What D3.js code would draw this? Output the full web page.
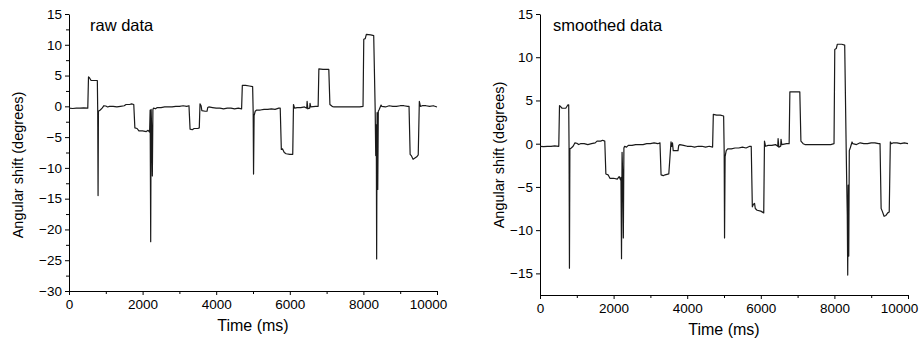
<!DOCTYPE html>
<html><head><meta charset="utf-8">
<script src="https://cdn.jsdelivr.net/npm/d3@7"></script>
<style>body{margin:0;background:#fff}svg{display:block}text{font-family:"Liberation Sans",Arial,sans-serif;fill:#000}</style>
</head><body><svg id="c" width="920" height="342"></svg>
<script>
const xTicks = [0, 2000, 4000, 6000, 8000, 10000];
const rawYTicks = [15, 10, 5, 0, -5, -10, -15, -20, -25, -30];
const smoothYTicks = [15, 10, 5, 0, -5, -10, -15];

const rawTime = [0,100,200,300,400,510,530,560,600,700,770,780,790,800,850,900,950,1000,1050,1100,1200,1300,1400,1500,1550,1650,1700,1760,1790,1850,1900,2000,2100,2150,2190,2205,2220,2232,2250,2265,2280,2300,2350,2400,2500,2600,2700,2800,2900,3000,3100,3200,3260,3290,3350,3400,3500,3540,3560,3590,3610,3700,3750,3770,3800,3900,4000,4100,4200,4300,4400,4500,4600,4690,4710,4800,4900,4990,5005,5015,5030,5060,5100,5200,5300,5400,5500,5600,5700,5740,5770,5800,5850,5900,6000,6080,6100,6130,6200,6300,6400,6460,6470,6490,6540,6550,6570,6700,6770,6790,6900,7000,7060,7090,7150,7200,7300,7500,7700,7900,7990,8010,8050,8080,8200,8280,8320,8335,8350,8360,8372,8390,8405,8430,8480,8500,8600,8700,8800,8900,9000,9100,9200,9240,9270,9300,9350,9400,9450,9490,9520,9550,9600,9700,9800,9900,10000];
const rawValue = [-0.3,-0.35,-0.3,-0.3,-0.25,-0.3,4.8,4.6,4.2,4.2,4.2,-0.5,-14.5,-0.8,-0.6,-0.3,0.1,0.05,-0.1,0,0,-0.1,0,0.1,0.3,0.3,0.4,0.3,-3.5,-3.6,-4,-4,-4.1,-3.9,-4.2,-0.6,-22,-0.5,-4.5,-11.3,-0.5,-0.3,-0.4,-0.2,-0.2,-0.1,-0.1,-0.1,0,0,0.1,0,0.1,-3.7,-3.8,-3.6,-3.6,-3.5,0.4,0.1,-0.7,-0.8,-0.8,-0.2,-0.1,-0.2,-0.3,-0.3,-0.4,-0.3,-0.3,-0.4,-0.3,-0.4,3.4,3.4,3.3,3.2,-1,-11,-1.5,-0.8,-0.6,-0.6,-0.5,-0.5,-0.4,-0.5,-0.3,-0.3,-7,-6.9,-7.5,-7.7,-7.8,-7.8,0.3,-0.3,-0.2,-0.2,-0.1,-0.3,0.8,-0.4,-0.3,0.5,-0.1,0,0,6.1,6,6,6,0.3,0,-0.1,-0.1,-0.1,-0.1,-0.1,0,10.9,11,11.7,11.6,11.5,-0.5,-8,-3,-24.8,-1,-13.5,-0.8,-0.5,0.2,0,-0.1,0.1,0,0,0.1,0.1,0,0,-7.8,-8,-8.6,-8.4,-8.2,-7.9,0.8,0,0.1,0.1,0,0.1,-0.1];

const smoothTime = [0,100,200,300,400,510,530,560,600,700,760,780,790,800,812,850,900,950,1000,1050,1100,1200,1300,1400,1500,1550,1650,1700,1760,1790,1850,1900,2000,2100,2150,2190,2200,2215,2230,2250,2265,2280,2300,2350,2400,2500,2600,2700,2800,2900,3000,3100,3200,3260,3290,3350,3400,3500,3560,3580,3600,3620,3700,3750,3770,3800,3900,4000,4100,4200,4300,4400,4500,4600,4690,4710,4800,4900,4990,5005,5015,5030,5060,5100,5200,5300,5400,5500,5600,5700,5740,5770,5800,5830,5850,5900,6000,6080,6100,6130,6200,6300,6400,6460,6470,6490,6540,6550,6570,6700,6770,6790,6900,7000,7060,7090,7150,7200,7300,7500,7700,7900,7990,8010,8050,8080,8200,8280,8320,8335,8350,8362,8375,8390,8405,8430,8480,8500,8600,8700,8800,8900,9000,9100,9200,9240,9270,9300,9350,9400,9450,9490,9520,9550,9600,9700,9800,9900,10000];
const smoothValue = [-0.3,-0.35,-0.3,-0.3,-0.25,-0.3,4.4,4.3,4.1,4.1,4.5,4.5,-0.5,-14.4,-0.6,-0.5,-0.3,0.1,0.05,-0.1,0,0,-0.1,0,0.1,0.3,0.3,0.4,0.3,-3.5,-3.6,-4,-4,-4.1,-3.8,-4.2,-3.9,-13.3,-1,-4,-10.9,-0.5,-0.3,-0.4,-0.2,-0.2,-0.1,-0.1,-0.1,0,0,0.1,0,0.1,-3.6,-3.7,-3.6,-3.5,0.2,-0.3,0.1,-0.8,-0.8,-0.8,-0.2,-0.1,-0.2,-0.3,-0.3,-0.4,-0.3,-0.3,-0.4,-0.3,-0.4,3.4,3.3,3.3,3.2,-1,-10.9,-1.5,-0.8,-0.6,-0.6,-0.5,-0.5,-0.4,-0.5,-0.3,-0.3,-7.3,-7.0,-6.9,-7.5,-7.7,-7.8,-8.0,0.3,-0.3,-0.2,-0.2,-0.1,-0.3,0.6,-0.4,-0.3,0.5,-0.1,0,0,6.0,6,6,6,0.3,0,-0.1,-0.1,-0.1,-0.1,-0.1,0,10.9,11,11.5,11.5,11.4,-0.5,-4.6,-8.2,-15.2,-4.8,-13,-0.8,-0.5,0.2,0,-0.1,0.1,0,0,0.1,0.1,0,0,-7.5,-7.8,-8.4,-8.3,-8.0,-7.9,0.2,0,0.1,0.1,0,0.1,0];

const svg = d3.select("#c");

function panel(opt) {
  const g = svg.append("g");
  const x = d3.scaleLinear().domain([0, 10000]).range([opt.x0, opt.x1]);
  const y = d3.scaleLinear().domain(opt.yDomain).range([opt.yBot, opt.yTop]);
  const xMinor = d3.range(1000, 10000, 2000);
  const yMinor = d3.range(opt.yDomain[0] + 2.5, opt.yDomain[1], 5).filter(v => Math.abs(v % 5) > 0.1);
  g.append("g").attr("transform", `translate(0,${opt.yBot})`)
    .call(d3.axisBottom(x).tickValues(xMinor).tickSize(3).tickFormat(""))
    .call(s => s.select(".domain").remove());
  g.append("g").attr("transform", `translate(${opt.x0},0)`)
    .call(d3.axisLeft(y).tickValues(yMinor).tickSize(3).tickFormat(""))
    .call(s => s.select(".domain").remove());
  const xa = g.append("g").attr("transform", `translate(0,${opt.yBot})`)
    .call(d3.axisBottom(x).tickValues(xTicks).tickSize(4).tickSizeOuter(0).tickPadding(4).tickFormat(d3.format("d")));
  const ya = g.append("g").attr("transform", `translate(${opt.x0},0)`)
    .call(d3.axisLeft(y).tickValues(opt.yTicks).tickSize(4).tickSizeOuter(0).tickPadding(3).tickFormat(d3.format("d")));
  [xa, ya].forEach(a => {
    a.selectAll("text").attr("font-size", 13.5).attr("font-family", '"Liberation Sans",Arial,sans-serif').attr("fill", "#000");
    a.selectAll("line,path").attr("stroke", "#000").attr("stroke-width", 1);
  });
  xa.selectAll(".tick text").filter(d => d === 10000).attr("dx", -9);
  g.selectAll("line").attr("stroke", "#000");
  const line = d3.line().x(d => x(d[0])).y(d => y(d[1]));
  const pts = opt.t.map((t, i) => [t, opt.v[i]]);
  g.append("path").attr("d", line(pts)).attr("fill", "none").attr("stroke", "#1a1a1a").attr("stroke-width", 1.2).attr("stroke-linejoin", "round");
  g.append("text").attr("x", opt.labelX).attr("y", 31).attr("font-size", 16.5).text(opt.label);
  g.append("text").attr("x", (opt.x0 + opt.x1) / 2).attr("y", opt.yBot + 40).attr("text-anchor", "middle").attr("font-size", 16).text("Time (ms)");
  g.append("text").attr("transform", `translate(${opt.titleX},${opt.titleY}) rotate(-90)`).attr("text-anchor", "middle").attr("font-size", 14.5).text("Angular shift (degrees)");
}

panel({x0: 69, x1: 437, yTop: 14, yBot: 291, yDomain: [-30, 15], yTicks: rawYTicks, t: rawTime, v: rawValue, label: "raw data", labelX: 90, titleX: 23, titleY: 165});
panel({x0: 540, x1: 908, yTop: 14, yBot: 295, yDomain: [-17.5, 15], yTicks: smoothYTicks, t: smoothTime, v: smoothValue, label: "smoothed data", labelX: 553, titleX: 504, titleY: 155});
</script></body></html>
